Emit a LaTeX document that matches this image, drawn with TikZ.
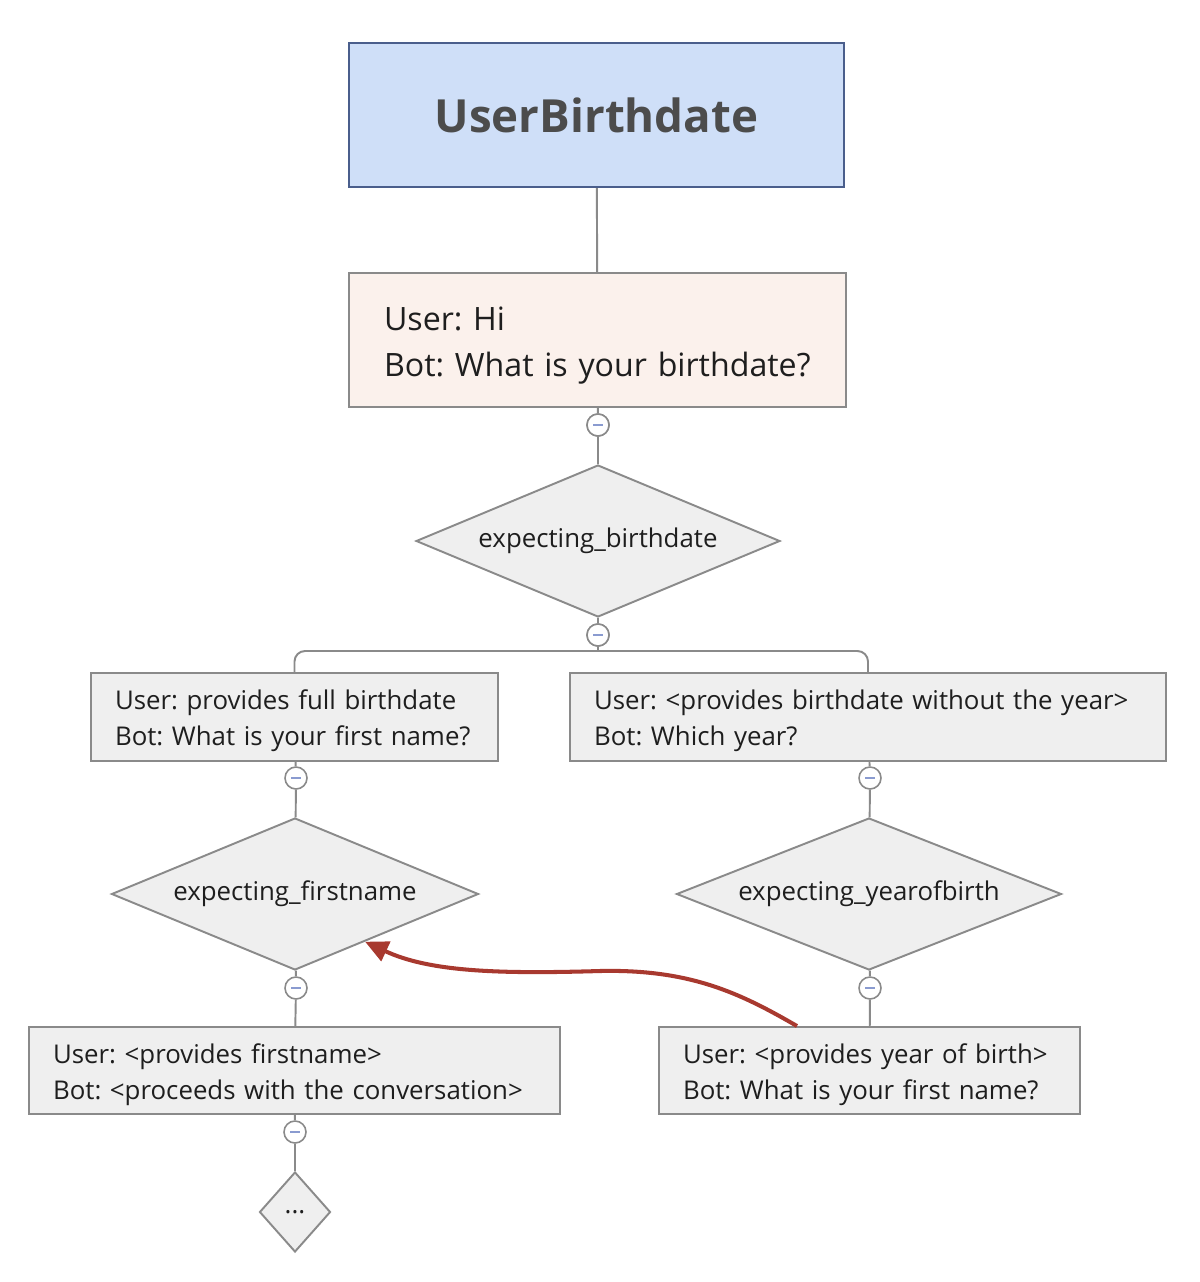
\documentclass[tikz,border=0pt]{standalone}
\usepackage{fontspec}
\setmainfont{Open Sans}
\usetikzlibrary{shapes.geometric,arrows.meta,calc}
\frenchspacing
\hyphenpenalty=10000
\definecolor{headfill}{HTML}{CFDFF8}
\definecolor{headline}{HTML}{4A5E8C}
\definecolor{startfill}{HTML}{FBF1EC}
\definecolor{boxfill}{HTML}{EFEFEF}
\definecolor{boxline}{HTML}{8A8A8A}
\definecolor{minusblue}{HTML}{8A9BD0}
\definecolor{jumpred}{HTML}{A8392F}
\definecolor{ink}{HTML}{1E1E1E}
\tikzstyle{head} = [rectangle, draw=headline, line width=1.4pt, fill=headfill, minimum width=9.9cm, minimum height=2.88cm, text=black!70, font=\bfseries\fontsize{26}{30}\selectfont]
\tikzstyle{chat} = [rectangle, draw=boxline, line width=1.1pt, fill=boxfill, text=ink, align=left, inner xsep=0.48cm, minimum height=1.76cm, font=\fontsize{14.7}{20.5}\selectfont, execute at begin node={\rule{0pt}{15.7pt}}]
\tikzstyle{cond} = [diamond, draw=boxline, line width=1.1pt, fill=boxfill, text=ink, aspect=2.4, inner sep=0pt, minimum height=3.04cm, font=\fontsize{14.7}{18}\selectfont]
\tikzstyle{toggle} = [circle, draw=boxline, line width=0.9pt, fill=white, minimum size=0.44cm, inner sep=0pt, path picture={\draw[minusblue, line width=1.2pt] ([xshift=-0.1cm]path picture bounding box.center) -- ([xshift=0.1cm]path picture bounding box.center);}]
\tikzstyle{link} = [draw=boxline, line width=1.1pt]
\begin{document}
\begin{tikzpicture}[x=0.02cm,y=-0.02cm]
                \useasboundingbox (0,0) rectangle (1200,1282);
                \node[head] (title) at (596.5,115) {UserBirthdate};
                \node[chat, fill=startfill, text width=8.54cm, inner xsep=0.7cm, minimum height=2.68cm, font=\fontsize{18.3}{26}\selectfont, execute at begin node={\rule{0pt}{19.6pt}}] (start) at (597.5,340) {User: Hi\\Bot: What is your birthdate?};
                \node[toggle] (t1) at (598,425) {};
                \node[cond, minimum width=7.28cm] (d1) at (598,541) {expecting\_birthdate};
                \node[toggle] (t2) at (598,635) {};
                \coordinate (bus) at (598,651);
                \node[chat, text width=7.18cm] (full) at (294.5,717) {User: provides full birthdate\\Bot: What is your first name?};
                \node[chat, text width=10.96cm] (nofull) at (868,717) {User: <provides birthdate without the year>\\Bot: Which year?};
                \node[toggle] (t3) at (296,778) {};
                \node[cond, minimum width=7.34cm] (d2) at (295,894) {expecting\_firstname};
                \node[toggle] (t4) at (296,988) {};
                \node[chat, text width=9.66cm, minimum height=1.74cm] (final) at (294.5,1070.5) {User: <provides firstname>\\Bot: <proceeds with the conversation>};
                \node[toggle] (t5) at (295,1132) {};
                \node[cond, aspect=1, minimum width=1.42cm, minimum height=1.6cm] (dots) at (295,1212) {...};
                \node[toggle] (t6) at (870,778) {};
                \node[cond, minimum width=7.7cm] (d3) at (869,894) {expecting\_yearofbirth};
                \node[toggle] (t7) at (870,988) {};
                \node[chat, text width=7.46cm, minimum height=1.74cm] (year) at (869.5,1070.5) {User: <provides year of birth>\\Bot: What is your first name?};

                \draw[link] (title) -- (start);
                \draw[link] (start) -- (t1) -- (d1) -- (t2) -- (bus);
                \draw[link, rounded corners=6pt] (full.north) |- (bus) -| (nofull.north);
                \draw[link] (full) -- (t3) -- (d2) -- (t4) -- (final) -- (t5) -- (dots);
                \draw[link] (nofull) -- (t6) -- (d3) -- (t7) -- (year);
                \node[toggle] at (t1) {};
                \node[toggle] at (t2) {};

                \coordinate (jump) at ([xshift=-1.45cm]year.north);
                \coordinate (back) at ($(d2.east)!0.62!(d2.south)$);
                \draw[jumpred, line width=2.3pt, -{Triangle[length=0.46cm,width=0.42cm]}] (jump) .. controls (740,993) and (690,969) .. (600,971) .. controls (500,974) and (430,972) .. (back);
            \end{tikzpicture}
\end{document}
